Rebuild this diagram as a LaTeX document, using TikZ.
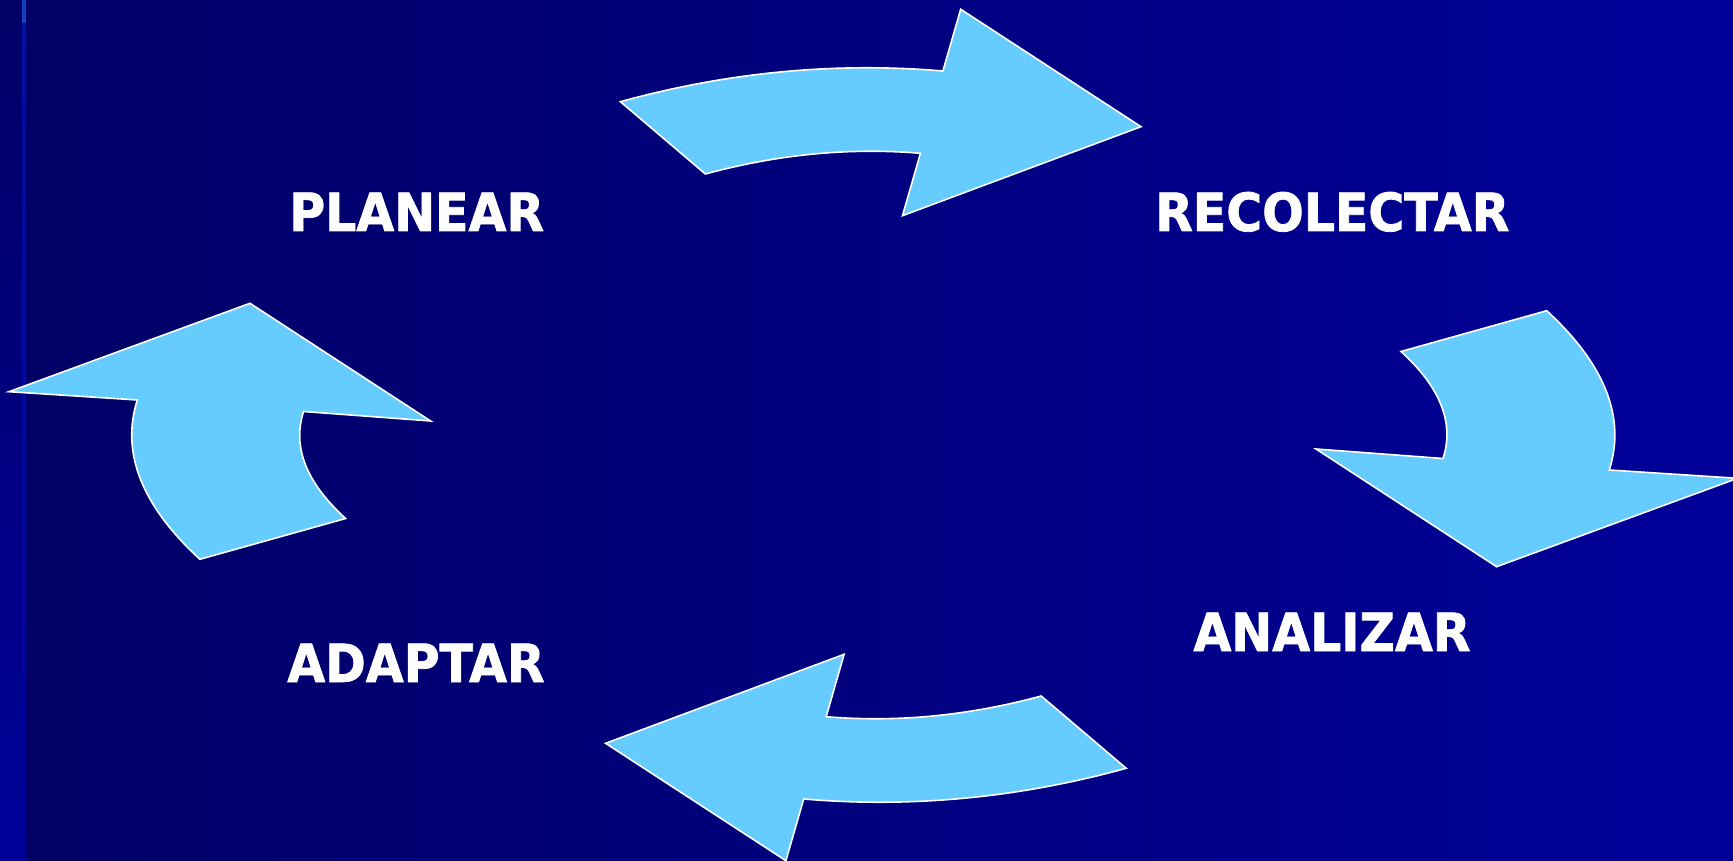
\documentclass[tikz,border=0pt]{standalone}
\usepackage{fontspec}
\newfontfamily\lblfont[FakeStretch=0.93,BoldFeatures={FakeBold=1.5}]{DejaVu Sans}
\definecolor{arrowblue}{HTML}{66CCFF}
\definecolor{bgleft}{HTML}{000066}
\definecolor{bgright}{HTML}{000099}
\definecolor{linetop}{HTML}{1040C0}
\definecolor{linemid}{HTML}{0010A0}
\tikzset{
  arrowshape/.style={fill=arrowblue,draw=white,line width=1.6pt,line join=miter},
  lbl/.style={text=white,font=\lblfont\bfseries\fontsize{52.6}{60}\selectfont,anchor=base,inner sep=0pt}
}
\newcommand\drawtoparrow{%
  \draw[arrowshape] (620.4,101.7) .. controls (727.9,72.1) and (835.4,61.9) .. (942.9,71)
    -- (960.7,9.3) -- (1141,126.7) -- (902.5,215.7) -- (920.4,153.3)
    .. controls (849.5,147.4) and (777.9,154.3) .. (705.4,174) -- cycle;}
\newcommand\drawsidearrow{%
  \draw[arrowshape] (1401,351.5) -- (1546.7,310.7)
    .. controls (1605.1,364.5) and (1626,417.6) .. (1609.3,470)
    -- (1737.6,478.3) -- (1496.6,566.7) -- (1316,449) -- (1443,458.5)
    .. controls (1454.5,423.2) and (1440.5,387.5) .. cycle;}
\begin{document}
\begin{tikzpicture}[x=1pt,y=-1pt]
\useasboundingbox (0,0) rectangle (1733,861);
\clip (0,0) rectangle (1733,861);
% background
\shade[left color=bgleft,right color=bgright] (26,0) rectangle (1733,861);
\shade[top color=bgleft,bottom color=bgright] (0,0) rectangle (22,861);
\shade[top color=linemid,bottom color=bgright] (22,23) rectangle (26,861);
\fill[linetop] (22,0) rectangle (26,23);
% arrows
\drawtoparrow
\drawsidearrow
\begin{scope}[shift={(1746.6,870)},xscale=-1,yscale=-1]
  \drawtoparrow
  \drawsidearrow
\end{scope}
% labels
\node[lbl] (planear) at (416.7,231) {PLANEAR};
\node[lbl] (recolectar) at (1332.3,231) {RECOLECTAR};
\node[lbl] (analizar) at (1332,651) {ANALIZAR};
\node[lbl] (adaptar) at (416,682) {ADAPTAR};
\end{tikzpicture}
\end{document}
